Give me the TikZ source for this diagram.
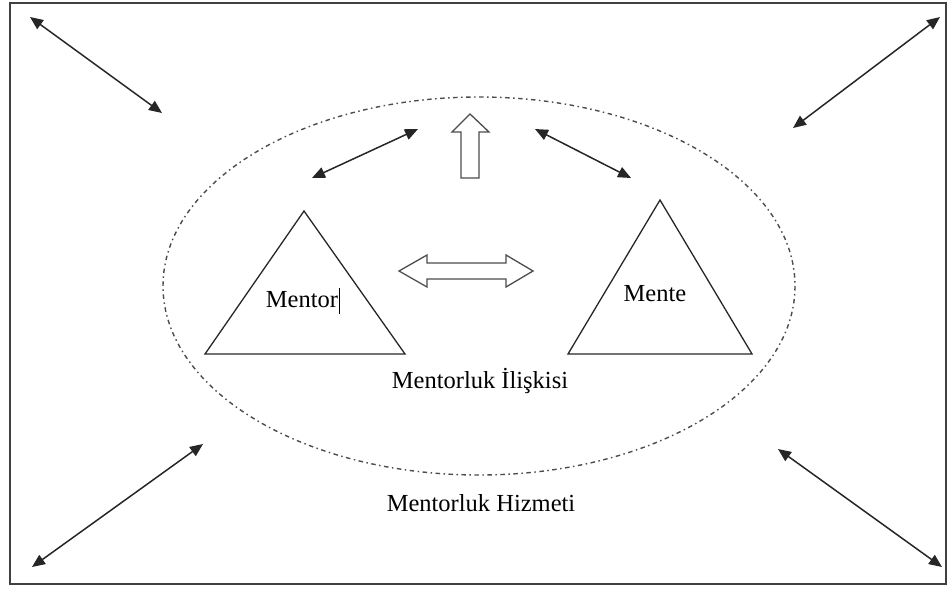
\documentclass[tikz,border=0pt]{standalone}
\usepackage{fontspec}
\setmainfont{Liberation Serif}
\usetikzlibrary{arrows.meta}
\tikzset{
  dbl/.style={{Triangle[length=13pt,width=11pt]}-{Triangle[length=13pt,width=11pt]}, line width=1.5pt, draw=black!85},
  blockarrow/.style={draw=black!70, line width=1.3pt, fill=white, line join=miter},
  tri/.style={draw=black!85, line width=1.3pt, line join=miter},
  lbl/.style={font=\fontsize{24.5}{28}\selectfont, inner sep=0pt},
}
\begin{document}
\begin{tikzpicture}[x=1pt,y=-1pt]
\useasboundingbox (0,0) rectangle (950,589);
% frame
\draw[line width=1.6pt, draw=black!75] (10,3) rectangle (946,584);
% ellipse
\draw[line width=1.4pt, draw=black!70, dash pattern=on 4.5pt off 3.5pt on 1.5pt off 3.5pt] (479,286) ellipse [x radius=316, y radius=189];
% corner arrows
\coordinate (tl1) at (30,17); \coordinate (tl2) at (162,113);
\coordinate (tr1) at (940,17); \coordinate (tr2) at (793,128);
\coordinate (bl1) at (32,567); \coordinate (bl2) at (203,444);
\coordinate (br1) at (778,449); \coordinate (br2) at (942,567);
\draw[dbl] (tl1) -- (tl2);
\draw[dbl] (tr1) -- (tr2);
\draw[dbl] (bl1) -- (bl2);
\draw[dbl] (br1) -- (br2);
% inner small arrows
\coordinate (il1) at (312,178); \coordinate (il2) at (418,129);
\coordinate (ir1) at (535,129); \coordinate (ir2) at (631,178);
\draw[dbl] (il1) -- (il2);
\draw[dbl] (ir1) -- (ir2);
% up block arrow
\draw[blockarrow] (461,178) -- (461,132) -- (452,132) -- (470,114) -- (489,132) -- (479,132) -- (479,178) -- cycle;
% double block arrow
\draw[blockarrow] (399,271) -- (427,255) -- (427,263) -- (506,263) -- (506,255) -- (533,271) -- (506,287) -- (506,279) -- (427,279) -- (427,287) -- cycle;
% triangles
\draw[tri] (304,211) -- (405,354) -- (205,354) -- cycle;
\draw[tri] (660,200) -- (752,354) -- (568,354) -- cycle;
% texts
\node[lbl] (mentor) at (302,300) {Mentor};
\draw[line width=1pt] (mentor.east) ++(1.5,-12) -- ++(0,26);
\node[lbl] (mente) at (655,294) {Mente};
\node[lbl] (iliski) at (480,381) {Mentorluk İlişkisi};
\node[lbl] (hizmet) at (481,503) {Mentorluk Hizmeti};
\end{tikzpicture}
\end{document}
